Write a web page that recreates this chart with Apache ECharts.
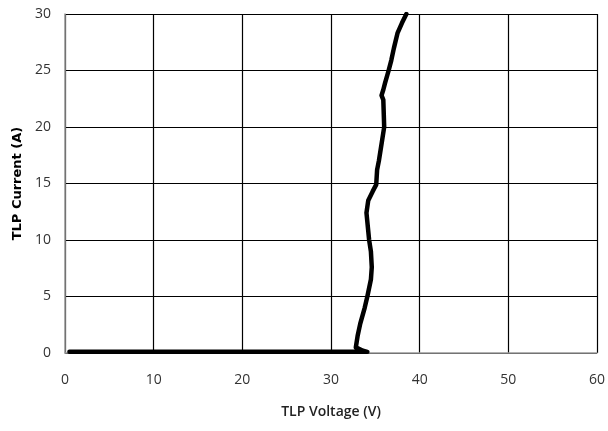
<!DOCTYPE html>
<html><head><meta charset="utf-8">
<script src="https://cdn.jsdelivr.net/npm/echarts@6/dist/echarts.min.js"></script>
<style>html,body{margin:0;padding:0;background:#fff}#c{width:608px;height:431px}</style>
</head><body><div id="c"></div>
<script>
const voltage = [0.5, 5, 10, 15, 20, 25, 30, 33, 34.1, 33.6, 32.8, 33.0, 33.3, 33.8, 34.1, 34.5, 34.6, 34.5, 34.3, 34.0, 34.2, 34.7, 35.1, 35.2, 35.4, 35.6, 36.0, 35.9, 35.7, 35.9, 36.1, 36.5, 36.8, 37.1, 37.5, 38.0, 38.5];
const current = [0.1, 0.1, 0.1, 0.1, 0.1, 0.1, 0.1, 0.1, 0.1, 0.2, 0.5, 1.5, 2.6, 4.0, 5, 6.5, 7.6, 9.0, 10, 12.4, 13.5, 14.3, 14.9, 16.2, 17.0, 18, 20, 22.4, 22.8, 23.3, 23.9, 25, 25.9, 27.0, 28.3, 29.2, 30];
const xTicks = [0, 10, 20, 30, 40, 50, 60];
const yTicks = [0, 5, 10, 15, 20, 25, 30];

const chart = echarts.init(document.getElementById('c'));
chart.setOption({
  animation: false,
  grid: {left: 65, right: 10, top: 14, bottom: 78},
  xAxis: {
    type: 'value', min: xTicks[0], max: xTicks[xTicks.length-1], interval: 10,
    name: 'TLP Voltage (V)', nameLocation: 'middle', nameGap: 52,
    nameTextStyle: {fontFamily: 'Open Sans', fontSize: 14, fontWeight: 600, color: '#222'},
    axisLine: {lineStyle: {color: '#999', width: 1.5}},
    axisTick: {show: false},
    axisLabel: {fontFamily: 'Open Sans', fontSize: 14, color: '#333', margin: 20},
    splitLine: {show: true, lineStyle: {color: '#000', width: 1.2}}
  },
  yAxis: {
    type: 'value', min: yTicks[0], max: yTicks[yTicks.length-1], interval: 5,
    name: 'TLP Current (A)', nameLocation: 'middle', nameGap: 40,
    nameTextStyle: {fontFamily: 'DejaVu Sans', fontSize: 13, fontWeight: 'bold', color: '#000'},
    axisLine: {show: true, lineStyle: {color: '#999', width: 1.5}},
    axisTick: {show: false},
    axisLabel: {fontFamily: 'Open Sans', fontSize: 14, color: '#333', margin: 14},
    splitLine: {show: true, lineStyle: {color: '#000', width: 1.2}}
  },
  series: [{
    type: 'line',
    data: voltage.map((v, i) => [v, current[i]]),
    showSymbol: false,
    lineStyle: {color: '#000', width: 4.5, join: 'round', cap: 'round'}
  }]
});
</script></body></html>
